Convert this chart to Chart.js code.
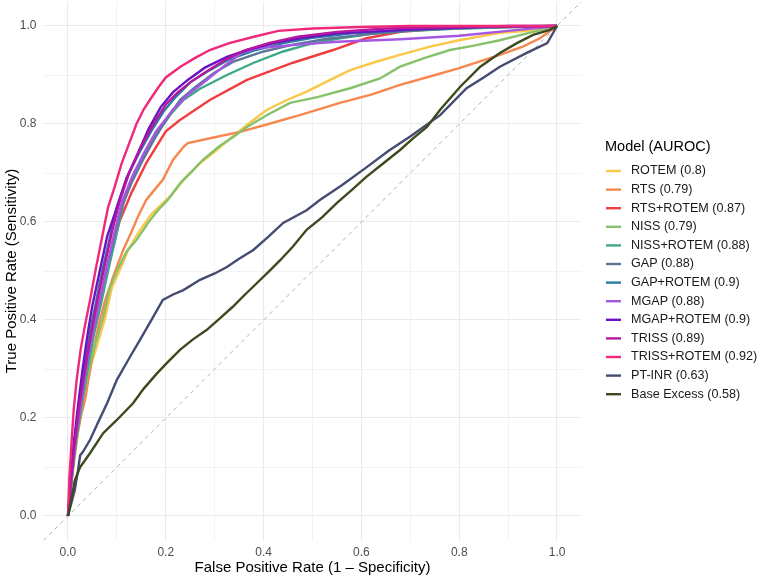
<!DOCTYPE html>
<html>
<head>
<meta charset="utf-8">
<script src="https://cdn.jsdelivr.net/npm/chart.js@4.4.0/dist/chart.umd.min.js"></script>
<style>
html, body { margin: 0; padding: 0; background: #fff; }
</style>
</head>
<body>
<canvas id="roc" width="762" height="578"></canvas>
<script>
// ROC curves, each point is [false positive rate, true positive rate]
const rotem = [[0,0],[0.006,0.06],[0.014,0.12],[0.022,0.18],[0.031,0.237],[0.045,0.3],[0.06,0.35],[0.075,0.4],[0.09,0.467],[0.105,0.5],[0.123,0.543],[0.145,0.58],[0.17,0.615],[0.19,0.635],[0.212,0.655],[0.24,0.69],[0.27,0.72],[0.304,0.747],[0.335,0.773],[0.366,0.798],[0.407,0.829],[0.45,0.85],[0.488,0.866],[0.53,0.887],[0.577,0.91],[0.63,0.927],[0.679,0.941],[0.74,0.958],[0.8,0.971],[0.883,0.986],[0.94,0.99],[1,1]];
const rts = [[0,0],[0.005,0.06],[0.012,0.12],[0.02,0.17],[0.028,0.21],[0.035,0.237],[0.044,0.29],[0.052,0.339],[0.063,0.39],[0.076,0.44],[0.093,0.49],[0.113,0.543],[0.13,0.58],[0.145,0.615],[0.16,0.645],[0.174,0.662],[0.194,0.686],[0.215,0.727],[0.236,0.753],[0.245,0.761],[0.3,0.773],[0.352,0.784],[0.41,0.8],[0.474,0.818],[0.556,0.843],[0.62,0.86],[0.679,0.88],[0.74,0.897],[0.8,0.914],[0.883,0.941],[0.93,0.958],[0.965,0.975],[1,1]];
const rtsRotem = [[0,0],[0.01,0.1],[0.02,0.2],[0.035,0.3],[0.055,0.4],[0.08,0.5],[0.105,0.6],[0.13,0.66],[0.16,0.72],[0.2,0.785],[0.229,0.808],[0.29,0.849],[0.366,0.89],[0.46,0.925],[0.542,0.951],[0.61,0.975],[0.68,0.988],[0.8,0.997],[1,1]];
const niss = [[0,0],[0.006,0.06],[0.013,0.12],[0.021,0.18],[0.03,0.237],[0.043,0.3],[0.057,0.355],[0.072,0.405],[0.086,0.467],[0.1,0.5],[0.12,0.54],[0.14,0.563],[0.165,0.6],[0.185,0.625],[0.204,0.645],[0.23,0.68],[0.255,0.705],[0.276,0.727],[0.31,0.755],[0.34,0.775],[0.366,0.794],[0.41,0.82],[0.454,0.843],[0.51,0.855],[0.577,0.873],[0.638,0.893],[0.679,0.917],[0.73,0.935],[0.781,0.951],[0.83,0.96],[0.883,0.971],[0.951,0.988],[1,1]];
const nissRotem = [[0,0],[0.007,0.07],[0.016,0.15],[0.027,0.22],[0.04,0.3],[0.053,0.37],[0.067,0.43],[0.082,0.5],[0.098,0.57],[0.115,0.645],[0.135,0.7],[0.16,0.745],[0.185,0.785],[0.21,0.82],[0.236,0.849],[0.27,0.872],[0.325,0.9],[0.38,0.925],[0.44,0.948],[0.49,0.962],[0.55,0.974],[0.62,0.984],[0.7,0.99],[0.8,0.995],[1,1]];
const gap = [[0,0],[0.007,0.07],[0.015,0.15],[0.025,0.22],[0.037,0.3],[0.05,0.37],[0.063,0.43],[0.078,0.5],[0.095,0.57],[0.11,0.63],[0.13,0.68],[0.155,0.73],[0.18,0.775],[0.205,0.815],[0.23,0.85],[0.26,0.875],[0.3,0.905],[0.34,0.928],[0.4,0.948],[0.46,0.962],[0.53,0.974],[0.62,0.984],[0.72,0.992],[0.85,0.997],[1,1]];
const gapRotem = [[0,0],[0.006,0.07],[0.013,0.15],[0.022,0.22],[0.033,0.3],[0.044,0.37],[0.056,0.43],[0.07,0.5],[0.086,0.57],[0.1,0.63],[0.12,0.69],[0.145,0.74],[0.17,0.785],[0.195,0.825],[0.22,0.855],[0.25,0.885],[0.29,0.91],[0.33,0.932],[0.38,0.95],[0.44,0.965],[0.5,0.976],[0.58,0.985],[0.7,0.993],[0.85,0.998],[1,1]];
const mgap = [[0,0],[0.007,0.07],[0.015,0.15],[0.025,0.22],[0.037,0.3],[0.05,0.37],[0.063,0.43],[0.078,0.5],[0.093,0.57],[0.11,0.64],[0.13,0.69],[0.155,0.74],[0.18,0.785],[0.2,0.81],[0.215,0.83],[0.23,0.843],[0.245,0.86],[0.265,0.875],[0.29,0.895],[0.315,0.915],[0.335,0.93],[0.355,0.945],[0.39,0.955],[0.47,0.962],[0.55,0.968],[0.68,0.973],[0.8,0.98],[0.9,0.99],[1,1]];
const mgapRotem = [[0,0],[0.005,0.07],[0.012,0.15],[0.02,0.22],[0.03,0.3],[0.04,0.37],[0.05,0.43],[0.065,0.5],[0.08,0.57],[0.1,0.63],[0.12,0.69],[0.145,0.745],[0.165,0.79],[0.19,0.835],[0.215,0.865],[0.245,0.89],[0.28,0.915],[0.325,0.937],[0.37,0.952],[0.42,0.965],[0.48,0.976],[0.55,0.985],[0.65,0.99],[0.75,0.995],[0.9,1],[1,1]];
const triss = [[0,0],[0.006,0.07],[0.014,0.15],[0.024,0.23],[0.035,0.3],[0.047,0.37],[0.06,0.44],[0.075,0.51],[0.09,0.58],[0.105,0.64],[0.125,0.7],[0.15,0.755],[0.175,0.8],[0.2,0.84],[0.225,0.865],[0.25,0.885],[0.28,0.905],[0.32,0.93],[0.36,0.95],[0.41,0.965],[0.47,0.978],[0.55,0.988],[0.65,0.995],[0.8,0.998],[1,1]];
const trissRotem = [[0,0],[0.003,0.08],[0.008,0.16],[0.012,0.22],[0.018,0.28],[0.026,0.34],[0.035,0.39],[0.045,0.44],[0.058,0.51],[0.07,0.57],[0.082,0.63],[0.095,0.67],[0.11,0.72],[0.125,0.76],[0.14,0.8],[0.155,0.83],[0.168,0.85],[0.185,0.875],[0.2,0.895],[0.23,0.917],[0.26,0.935],[0.29,0.951],[0.33,0.965],[0.38,0.978],[0.43,0.99],[0.5,0.995],[0.6,0.998],[0.7,1],[1,1]];
const ptInr = [[0,0],[0.008,0.03],[0.014,0.053],[0.02,0.09],[0.025,0.124],[0.03,0.13],[0.045,0.155],[0.061,0.19],[0.08,0.23],[0.1,0.278],[0.127,0.325],[0.147,0.359],[0.174,0.406],[0.194,0.441],[0.215,0.452],[0.236,0.461],[0.27,0.482],[0.3,0.495],[0.325,0.508],[0.35,0.525],[0.379,0.543],[0.41,0.57],[0.44,0.598],[0.488,0.624],[0.515,0.645],[0.56,0.675],[0.611,0.712],[0.655,0.745],[0.699,0.774],[0.761,0.818],[0.815,0.873],[0.85,0.895],[0.883,0.917],[0.938,0.945],[0.98,0.965],[1,1]];
const baseExcess = [[0,0],[0.008,0.04],[0.014,0.073],[0.025,0.1],[0.045,0.128],[0.072,0.169],[0.1,0.196],[0.133,0.23],[0.155,0.26],[0.182,0.291],[0.205,0.315],[0.229,0.339],[0.255,0.36],[0.284,0.38],[0.31,0.403],[0.337,0.427],[0.36,0.45],[0.386,0.475],[0.41,0.498],[0.434,0.522],[0.46,0.55],[0.488,0.584],[0.52,0.61],[0.55,0.639],[0.58,0.665],[0.61,0.692],[0.645,0.72],[0.679,0.747],[0.705,0.77],[0.734,0.794],[0.761,0.829],[0.802,0.876],[0.843,0.917],[0.883,0.945],[0.918,0.965],[0.951,0.982],[0.985,0.992],[1,1]];

const models = ['ROTEM', 'RTS', 'RTS+ROTEM', 'NISS', 'NISS+ROTEM', 'GAP', 'GAP+ROTEM', 'MGAP', 'MGAP+ROTEM', 'TRISS', 'TRISS+ROTEM', 'PT-INR', 'Base Excess'];
const auroc = [0.8, 0.79, 0.87, 0.79, 0.88, 0.88, 0.9, 0.88, 0.9, 0.89, 0.92, 0.63, 0.58];
const curves = [rotem, rts, rtsRotem, niss, nissRotem, gap, gapRotem, mgap, mgapRotem, triss, trissRotem, ptInr, baseExcess];
const colors = ['#FAC748', '#F5874F', '#EF3D40', '#86C26B', '#3EA987', '#5C7598', '#2B7CA3', '#A556E2', '#6A12C4', '#B5179E', '#F0287A', '#454C73', '#3E4A1E'];

const majorTicks = [0, 0.2, 0.4, 0.6, 0.8, 1.0];
const minorTicks = [0.1, 0.3, 0.5, 0.7, 0.9];

const FONT = '"Liberation Sans", Arial, Helvetica, sans-serif';

function isMajor(v) {
    return majorTicks.some(m => Math.abs(m - v) < 1e-6);
}

function setTicks(scale) {
    scale.ticks = majorTicks.concat(minorTicks).sort((a, b) => a - b).map(v => ({ value: v }));
}

// labels never sit at the panel edges, so no room is needed for them there
function noEdgePadding(scale) {
    scale.paddingTop = 0;
    scale.paddingBottom = 0;
    scale.paddingLeft = 0;
    scale.paddingRight = 0;
}

let datasets = curves.map((c, i) => ({
    label: models[i] + ' (' + auroc[i] + ')',
    data: c.map(p => ({ x: p[0], y: p[1] })),
    borderColor: colors[i],
    backgroundColor: colors[i],
    borderWidth: 2.4,
    pointRadius: 0,
    showLine: true,
    tension: 0,
    order: -i
}));

// chance line
datasets.push({
    label: 'chance',
    data: [{ x: -0.05, y: -0.05 }, { x: 1.05, y: 1.05 }],
    borderColor: '#A8A8A8',
    borderWidth: 0.9,
    borderDash: [4, 4],
    pointRadius: 0,
    showLine: true,
    order: 100
});

const sideLegend = {
    id: 'sideLegend',
    afterDraw(chart) {
        const ctx = chart.ctx;
        ctx.save();
        ctx.textAlign = 'left';
        ctx.textBaseline = 'middle';
        ctx.fillStyle = '#000';
        ctx.font = '14.5px ' + FONT;
        ctx.fillText('Model (AUROC)', 605, 147);
        ctx.font = '12.6px ' + FONT;
        models.forEach((m, i) => {
            const y = 171 + i * 18.6;
            ctx.strokeStyle = colors[i];
            ctx.lineWidth = 2.4;
            ctx.beginPath();
            ctx.moveTo(606, y);
            ctx.lineTo(621, y);
            ctx.stroke();
            ctx.fillStyle = '#1A1A1A';
            ctx.fillText(m + ' (' + auroc[i] + ')', 631, y);
        });
        ctx.restore();
    }
};

const gridOpts = {
    color: '#EBEBEB',
    lineWidth: c => (c.tick && isMajor(c.tick.value)) ? 1.1 : 0.6,
    drawTicks: false
};

new Chart(document.getElementById('roc'), {
    type: 'scatter',
    data: { datasets: datasets },
    options: {
        responsive: false,
        animation: false,
        layout: { padding: { top: 1.5, right: 180.5, left: 0, bottom: 0 } },
        plugins: {
            legend: { display: false },
            tooltip: { enabled: false }
        },
        scales: {
            x: {
                type: 'linear',
                min: -0.05,
                max: 1.05,
                afterBuildTicks: setTicks,
                afterFit: s => { s.height = 37.5; noEdgePadding(s); },
                grid: gridOpts,
                border: { display: false },
                ticks: {
                    autoSkip: false,
                    maxRotation: 0,
                    padding: 5,
                    color: '#4D4D4D',
                    font: { size: 12, family: FONT },
                    callback: v => isMajor(v) ? v.toFixed(1) : ''
                },
                title: {
                    display: true,
                    text: 'False Positive Rate (1 \u2013 Specificity)',
                    color: '#000',
                    font: { size: 15, family: FONT },
                    padding: { top: 0, bottom: 1 }
                }
            },
            y: {
                type: 'linear',
                min: -0.05,
                max: 1.05,
                afterBuildTicks: setTicks,
                afterFit: s => { s.width = 43.5; noEdgePadding(s); },
                grid: gridOpts,
                border: { display: false },
                ticks: {
                    autoSkip: false,
                    padding: 7,
                    color: '#4D4D4D',
                    font: { size: 12, family: FONT },
                    callback: v => isMajor(v) ? v.toFixed(1) : ''
                },
                title: {
                    display: true,
                    text: 'True Positive Rate (Sensitivity)',
                    color: '#000',
                    font: { size: 15, family: FONT },
                    padding: { top: 3, bottom: 0 }
                }
            }
        }
    },
    plugins: [sideLegend]
});
</script>
</body>
</html>
